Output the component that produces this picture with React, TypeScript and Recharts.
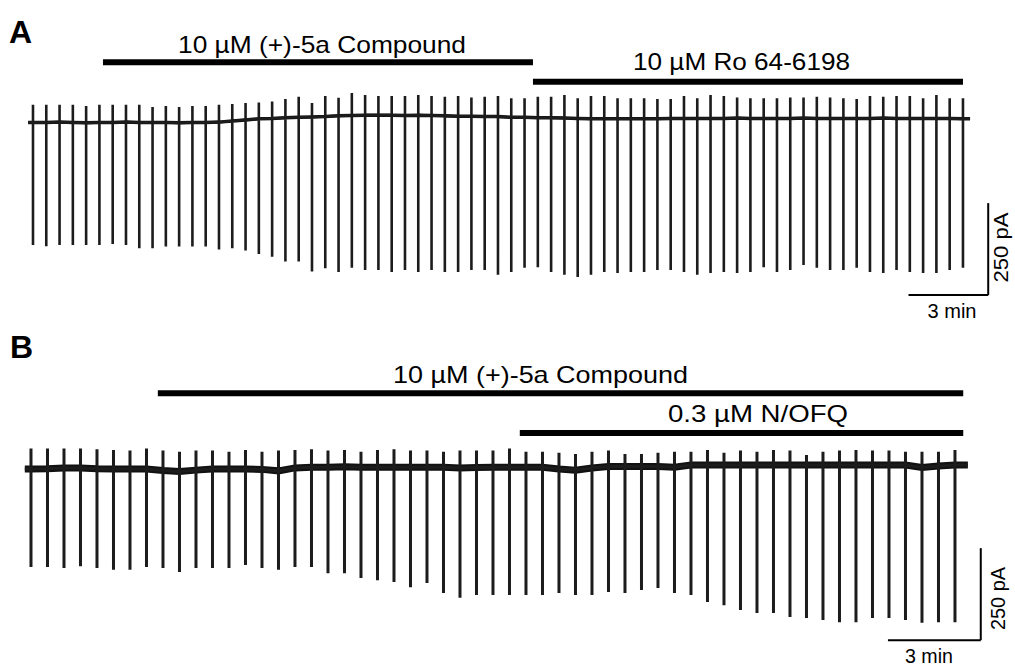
import { Line, LineChart, ReferenceLine, XAxis, YAxis } from "recharts";

// Panel A: stimulation every 30 s (times in s), currents in pA
const timesA = [
  0, 30, 60, 90, 120, 150, 180, 210, 240, 270, 300, 330, 360, 390, 420, 450, 480, 510, 540, 570,
  600, 630, 660, 690, 720, 750, 780, 810, 840, 870, 900, 930, 960, 990, 1020, 1050, 1080, 1110,
  1140, 1170, 1200, 1230, 1260, 1290, 1320, 1350, 1380, 1410, 1440, 1470, 1500, 1530, 1560, 1590,
  1620, 1650, 1680, 1710, 1740, 1770, 1800, 1830, 1860, 1890, 1920, 1950, 1980, 2010, 2040, 2070,
  2100,
];
const baseA = [
  0, 0, 1, 0, -1, 0, 0, 1, 0, 0, 0, -1, 0, 0, 1, 4, 7, 10, 11, 13, 14, 15, 16, 18, 19, 20, 20, 20,
  19, 20, 19, 18, 17, 17, 16, 16, 14, 14, 13, 13, 12, 11, 10, 10, 10, 10, 10, 10, 11, 11, 11, 11,
  11, 12, 11, 11, 11, 11, 12, 11, 11, 11, 11, 11, 12, 11, 11, 11, 11, 11, 10,
];
const peakA = [
  48, 48, 48, 48, 45, 48, 48, 48, 48, 42, 45, 42, 45, 45, 48, 50, 53, 54, 57, 64, 70, 53, 72, 67,
  80, 75, 72, 72, 72, 75, 72, 70, 72, 68, 70, 72, 66, 66, 70, 70, 75, 66, 72, 72, 66, 66, 66, 64,
  64, 72, 66, 75, 72, 68, 66, 66, 66, 68, 68, 70, 68, 66, 64, 72, 70, 72, 72, 66, 75, 66, 66,
];
const troughA = [
  -333, -336, -333, -333, -333, -333, -330, -333, -342, -342, -337, -337, -337, -337, -345, -342,
  -348, -357, -365, -378, -378, -405, -396, -406, -395, -401, -401, -406, -401, -406, -401, -406,
  -406, -401, -401, -414, -406, -395, -393, -406, -414, -420, -414, -406, -409, -406, -406, -401,
  -401, -406, -414, -409, -406, -409, -406, -393, -406, -401, -387, -395, -401, -401, -395, -406,
  -409, -401, -406, -409, -409, -401, -395,
];
const sweepA = [-11, 2116];

// Panel B: stimulation every 32 s
const timesB = [
  0, 32, 64, 96, 128, 160, 192, 224, 256, 288, 320, 352, 384, 416, 448, 480, 512, 544, 576, 608,
  640, 672, 704, 736, 768, 800, 832, 864, 896, 928, 960, 992, 1024, 1056, 1088, 1120, 1152, 1184,
  1216, 1248, 1280, 1312, 1344, 1376, 1408, 1440, 1472, 1504, 1536, 1568, 1600, 1632, 1664, 1696,
  1728, 1760, 1792,
];
const baseB = [
  0, 1, 3, 3, 1, 0, 0, 0, -4, -7, -3, 0, 0, 0, -1, -5, 3, 5, 5, 6, 5, 5, 5, 5, 5, 5, 3, 4, 5, 5,
  5, 5, 0, -3, 3, 7, 7, 7, 7, 5, 11, 11, 11, 11, 11, 11, 11, 11, 11, 11, 11, 11, 11, 11, 4, 8, 11,
];
const peakB = [
  56, 56, 56, 56, 54, 52, 50, 56, 50, 47, 50, 50, 47, 52, 47, 50, 52, 54, 50, 52, 47, 52, 54, 50,
  50, 47, 50, 50, 50, 56, 47, 47, 44, 41, 47, 50, 41, 41, 44, 47, 47, 52, 44, 50, 47, 52, 50, 38,
  47, 50, 52, 50, 50, 47, 47, 47, 52,
];
const troughB = [
  -266, -266, -269, -264, -269, -274, -274, -266, -269, -280, -269, -269, -269, -261, -269, -274,
  -266, -266, -283, -283, -296, -302, -307, -321, -310, -337, -350, -342, -342, -342, -342, -342,
  -337, -342, -342, -334, -337, -329, -323, -337, -342, -361, -370, -383, -391, -391, -402, -405,
  -410, -416, -416, -405, -405, -410, -418, -416, -416,
];
const sweepB = [-12, 1817];

// drug applications [start s, end s]
const drugsA = [
  { label: "10 µM (+)-5a Compound", on: 158, off: 1129, level: 164 },
  { label: "10 µM Ro 64-6198", on: 1129, off: 2100, level: 111 },
];
const drugsB = [
  { label: "10 µM (+)-5a Compound", on: 246, off: 1808, level: 206 },
  { label: "0.3 µM N/OFQ", on: 948, off: 1808, level: 98 },
];

const INK = "#111";
const FONT = "'Liberation Sans', Arial, sans-serif";

function buildTrace(times: number[], base: number[], peak: number[], trough: number[], sweep: number[]) {
  const pts = [{ t: sweep[0], v: base[0] }];
  times.forEach((t, i) => {
    pts.push({ t, v: base[i] }, { t, v: peak[i] }, { t, v: trough[i] }, { t, v: base[i] });
  });
  pts.push({ t: sweep[1], v: base[base.length - 1] });
  return pts;
}

function buildBaseline(times: number[], base: number[], sweep: number[]) {
  return [
    { t: sweep[0], v: base[0] },
    ...times.map((t, i) => ({ t, v: base[i] })),
    { t: sweep[1], v: base[base.length - 1] },
  ];
}

type PanelProps = {
  height: number;
  xDomain: [number, number];
  yDomain: [number, number];
  trace: { t: number; v: number }[];
  baseline: { t: number; v: number }[];
  baseWidth: number;
  spikeWidth: number;
  drugs: { label: string; on: number; off: number; level: number }[];
  scaleBar: { t0: number; t1: number; i0: number; i1: number };
};

function TracePanel(p: PanelProps) {
  return (
    <LineChart width={1015} height={p.height} margin={{ top: 0, right: 0, bottom: 0, left: 0 }}>
      <XAxis type="number" dataKey="t" domain={p.xDomain} allowDataOverflow hide />
      <YAxis type="number" domain={p.yDomain} allowDataOverflow hide />
      <Line
        data={p.baseline}
        dataKey="v"
        type="linear"
        stroke={INK}
        strokeWidth={p.baseWidth}
        dot={false}
        activeDot={false}
        isAnimationActive={false}
      />
      <Line
        data={p.trace}
        dataKey="v"
        type="linear"
        stroke="#1c1c1c"
        strokeWidth={p.spikeWidth}
        strokeLinejoin="miter"
        dot={false}
        activeDot={false}
        isAnimationActive={false}
      />
      {p.drugs.map((d) => (
        <ReferenceLine
          key={d.label}
          segment={[
            { x: d.on, y: d.level },
            { x: d.off, y: d.level },
          ]}
          stroke="#000"
          strokeWidth={6}
          ifOverflow="visible"
        />
      ))}
      <ReferenceLine
        segment={[
          { x: p.scaleBar.t1, y: p.scaleBar.i0 },
          { x: p.scaleBar.t1, y: p.scaleBar.i1 },
        ]}
        stroke="#000"
        strokeWidth={2}
        ifOverflow="visible"
      />
      <ReferenceLine
        segment={[
          { x: p.scaleBar.t0, y: p.scaleBar.i1 },
          { x: p.scaleBar.t1, y: p.scaleBar.i1 },
        ]}
        stroke="#000"
        strokeWidth={2}
        ifOverflow="visible"
      />
    </LineChart>
  );
}

export default function App() {
  const traceA = buildTrace(timesA, baseA, peakA, troughA, sweepA);
  const traceB = buildTrace(timesB, baseB, peakB, troughB, sweepB);

  return (
    <div style={{ position: "absolute", left: 0, top: 0, width: 1015, height: 666, background: "#fff" }}>
      <div style={{ position: "absolute", left: 0, top: 0 }}>
        <TracePanel
          height={330}
          xDomain={[-74.5, 2217.5]}
          yDomain={[-563.8, 332.8]}
          trace={traceA}
          baseline={buildBaseline(timesA, baseA, sweepA)}
          baseWidth={3.5}
          spikeWidth={2.6}
          drugs={drugsA}
          scaleBar={{ t0: 1977, t1: 2157, i0: -219, i1: -469 }}
        />
      </div>
      <div style={{ position: "absolute", left: 0, top: 330 }}>
        <TracePanel
          height={336}
          xDomain={[-60.1, 1908.4]}
          yDomain={[-535.2, 377.7]}
          trace={traceB}
          baseline={buildBaseline(timesB, baseB, sweepB)}
          baseWidth={7}
          spikeWidth={3}
          drugs={drugsB}
          scaleBar={{ t0: 1662, t1: 1842, i0: -215, i1: -465 }}
        />
      </div>
      <svg
        width={1015}
        height={666}
        style={{ position: "absolute", left: 0, top: 0, pointerEvents: "none" }}
        fontFamily={FONT}
        fill="#000"
      >
        <text x={9} y={43} fontSize={32} fontWeight="bold">A</text>
        <text x={10} y={358} fontSize={32} fontWeight="bold">B</text>

        <text x={178} y={53} fontSize={24} textLength={288} lengthAdjust="spacingAndGlyphs">{drugsA[0].label}</text>
        <text x={633} y={70} fontSize={24} textLength={217} lengthAdjust="spacingAndGlyphs">{drugsA[1].label}</text>
        <text x={393} y={383} fontSize={24} textLength={295} lengthAdjust="spacingAndGlyphs">{drugsB[0].label}</text>
        <text x={668} y={422} fontSize={24} textLength={180} lengthAdjust="spacingAndGlyphs">{drugsB[1].label}</text>

        <text x={952} y={318} fontSize={20} textAnchor="middle" textLength={49} lengthAdjust="spacingAndGlyphs">3 min</text>
        <text transform="translate(1008,247.5) rotate(-90)" fontSize={21} textAnchor="middle" textLength={70} lengthAdjust="spacingAndGlyphs">250 pA</text>
        <text x={929} y={663} fontSize={20} textAnchor="middle" textLength={48} lengthAdjust="spacingAndGlyphs">3 min</text>
        <text transform="translate(1005,598.5) rotate(-90)" fontSize={21} textAnchor="middle" textLength={63} lengthAdjust="spacingAndGlyphs">250 pA</text>
      </svg>
    </div>
  );
}
